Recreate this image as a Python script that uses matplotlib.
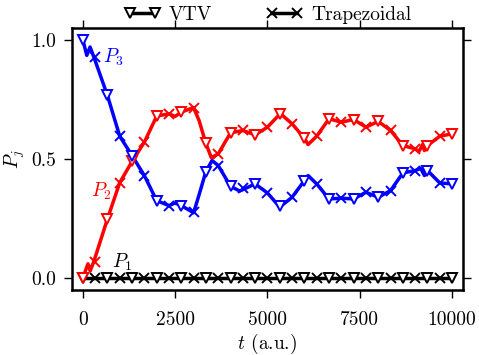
import numpy as np
import matplotlib
matplotlib.use("Agg")
import matplotlib.pyplot as plt
from matplotlib.lines import Line2D

plt.rcParams['font.family'] = 'serif'
plt.rcParams['font.serif'] = ['cmr10']
plt.rcParams['mathtext.fontset'] = 'cm'
plt.rcParams['axes.formatter.use_mathtext'] = True
plt.rcParams['axes.unicode_minus'] = False

# Continuous curves (time in a.u.)
t_p2_line = [0, 140, 200, 300, 667, 1000, 1333, 1667, 2000, 2333, 2500, 2667, 3000, 3150,
             3333, 3480, 3667, 4000, 4333, 4667, 5000, 5350, 5667, 6000, 6100, 6333, 6667,
             7000, 7333, 7667, 8000, 8333, 8667, 9000, 9100, 9200, 9250, 9333, 9667, 10000]
p2_line = [0.0, 0.06, 0.03, 0.07, 0.248, 0.40, 0.489, 0.57, 0.679, 0.689, 0.678, 0.696, 0.715, 0.66,
           0.565, 0.505, 0.521, 0.609, 0.619, 0.601, 0.633, 0.69, 0.647, 0.587, 0.56, 0.595, 0.668,
           0.654, 0.665, 0.633, 0.657, 0.619, 0.556, 0.542, 0.53, 0.56, 0.535, 0.556, 0.595, 0.605]

t_p3_line = [0, 108, 197, 300, 667, 1000, 1333, 1667, 2000, 2333, 2500, 2667, 3000, 3150,
             3333, 3500, 3667, 4000, 4250, 4667, 5000, 5333, 5667, 6000, 6100, 6333, 6667,
             7000, 7333, 7667, 8000, 8333, 8667, 9000, 9150, 9250, 9333, 9667, 10000]
p3_line = [1.0, 0.934, 0.969, 0.927, 0.766, 0.595, 0.514, 0.430, 0.325, 0.304, 0.315, 0.304, 0.274, 0.35,
           0.447, 0.493, 0.472, 0.385, 0.365, 0.395, 0.357, 0.298, 0.339, 0.409, 0.43, 0.395, 0.332,
           0.335, 0.332, 0.360, 0.339, 0.367, 0.441, 0.451, 0.46, 0.43, 0.451, 0.399, 0.395]

t_p1_line = [0, 10000]
p1_line = [0.0, 0.0]

# VTV marker samples
t_vtv = [0, 667, 1333, 2000, 2667, 3333, 4000, 4667, 5333, 6000, 6667, 7333, 8000, 8667, 9333, 10000]
p1_vtv = [0.0] * 16
p2_vtv = [0.0, 0.248, 0.489, 0.679, 0.696, 0.565, 0.609, 0.601, 0.689, 0.587, 0.668, 0.665,
          0.657, 0.556, 0.556, 0.605]
p3_vtv = [1.0, 0.766, 0.514, 0.325, 0.304, 0.447, 0.385, 0.395, 0.304, 0.409, 0.332, 0.332,
          0.339, 0.441, 0.451, 0.395]

# Trapezoidal marker samples
t_trap = [333, 1000, 1667, 2333, 3000, 3667, 4333, 5000, 5667, 6333, 7000, 7667, 8333, 9000, 9667]
p1_trap = [0.0] * 15
p2_trap = [0.066, 0.399, 0.570, 0.689, 0.713, 0.521, 0.619, 0.633, 0.647, 0.595, 0.654, 0.633,
           0.619, 0.542, 0.595]
p3_trap = [0.927, 0.595, 0.430, 0.304, 0.276, 0.472, 0.377, 0.357, 0.339, 0.395, 0.335, 0.360,
           0.367, 0.451, 0.399]

xticks = [0, 2500, 5000, 7500, 10000]
yticks = [0.0, 0.5, 1.0]

fig = plt.figure(figsize=(4.79, 3.55), dpi=100)
ax = fig.add_axes([0.1497, 0.183, 0.8173, 0.739])

fs = 14
lw = 2.5
ms = 7
mew = 1.4
series = [
    ('k', t_p1_line, p1_line, p1_vtv, p1_trap),
    ('r', t_p2_line, p2_line, p2_vtv, p2_trap),
    ('b', t_p3_line, p3_line, p3_vtv, p3_trap),
]
for c, tl, pl, pv, pt in series:
    ax.plot(tl, pl, color=c, lw=lw, zorder=2)
    ax.plot(t_vtv, pv, ls='none', marker='v', mfc='white', mec=c, ms=ms, mew=mew, zorder=3)
    ax.plot(t_trap, pt, ls='none', marker='x', color=c, ms=ms, mew=mew, zorder=3)

ax.text(540, 0.925, r'$P_3$', color='b', fontsize=fs, va='center', ha='left')
ax.text(220, 0.365, r'$P_2$', color='r', fontsize=fs, va='center', ha='left')
ax.text(800, 0.065, r'$P_1$', color='k', fontsize=fs, va='center', ha='left')

ax.set_xlim(-300, 10300)
ax.set_ylim(-0.05, 1.05)
ax.set_xticks(xticks)
ax.set_yticks(yticks)
ax.set_xticklabels([str(v) for v in xticks])
ax.set_yticklabels(['%.1f' % v for v in yticks])
ax.tick_params(direction='out', top=True, right=True, length=6, width=1, labelsize=fs)
ax.tick_params(axis='x', pad=9)
ax.tick_params(axis='y', pad=5)
for s in ax.spines.values():
    s.set_linewidth(1.8)

ax.set_xlabel(r'$t$ (a.u.)', fontsize=fs, labelpad=2)
ax.set_ylabel(r'$P_j$', fontsize=fs, labelpad=3)

handles = [
    Line2D([], [], color='k', lw=lw, marker='v', mfc='white', mec='k', ms=ms, mew=mew),
    Line2D([], [], color='k', lw=lw, marker='x', ms=ms, mew=mew),
]
ax.legend(handles, ['VTV', 'Trapezoidal'], loc='center', bbox_to_anchor=(0.5, 1.05),
          ncol=2, frameon=False, numpoints=2, fontsize=fs, handlelength=1.9,
          columnspacing=2.8, handletextpad=0.4, borderaxespad=0)

fig.savefig('out.png', dpi=100)
